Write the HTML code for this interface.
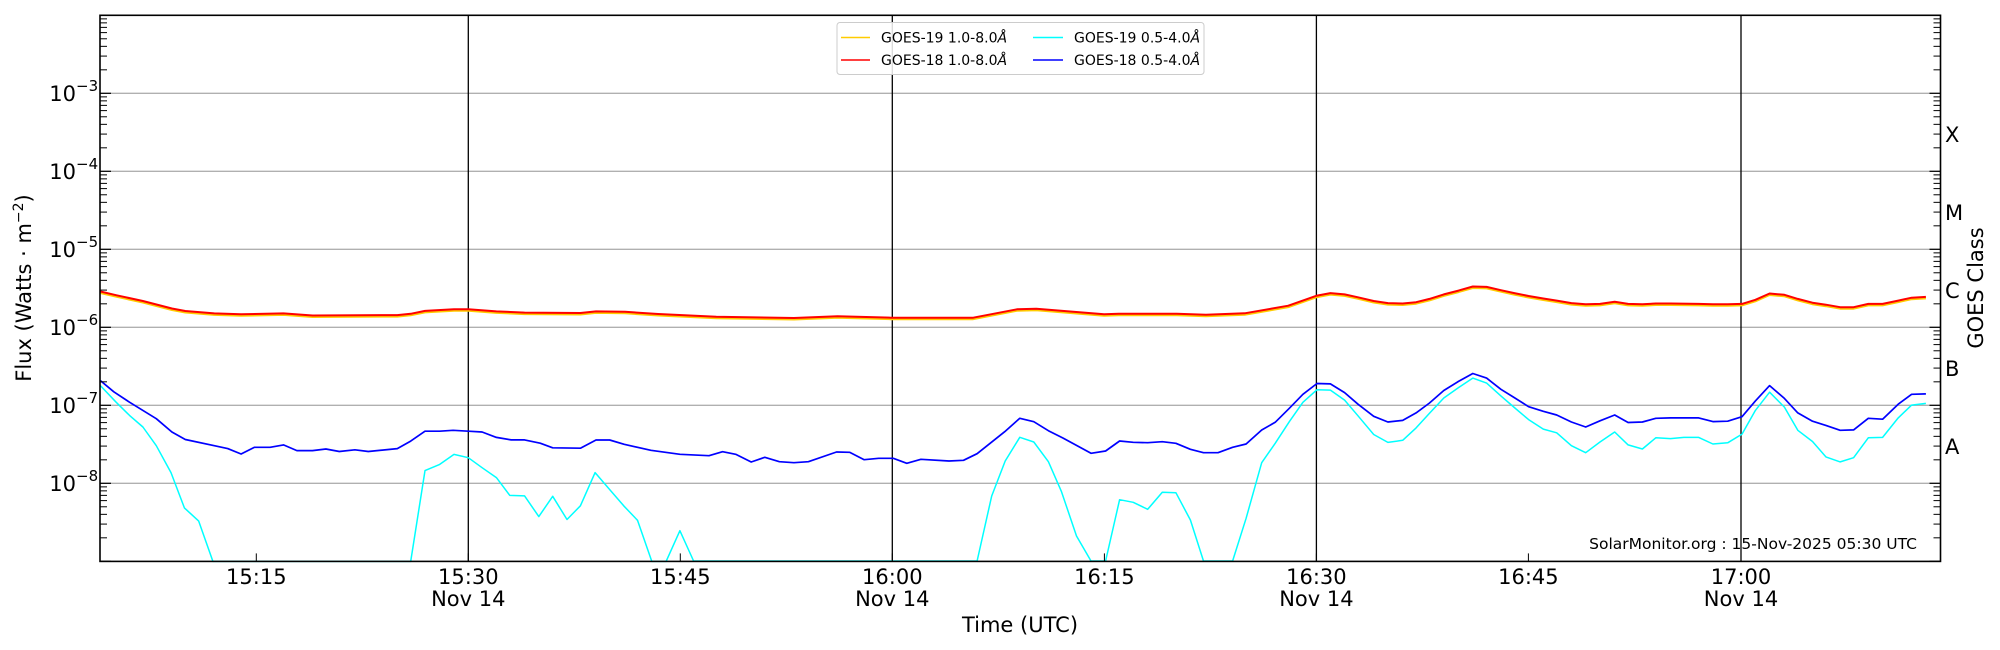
<!DOCTYPE html>
<html><head><meta charset="utf-8"><style>
html,body{margin:0;padding:0;background:#fff;}
svg{display:block;font-family:"DejaVu Sans","Liberation Sans",sans-serif;}
</style></head><body>
<svg id="s" width="2000" height="650" viewBox="0 0 2000 650" xmlns="http://www.w3.org/2000/svg">
<rect width="2000" height="650" fill="#fff"/>
<g id="grid"></g>
<g fill="none" stroke-linejoin="round">
<polyline id="cy" stroke="#00ffff" stroke-width="1.5" points="100.4,385.6 116.1,402.2 129.5,415.4 142.9,427 156.3,445.7 171,472.6 184.4,507.9 198.7,521.1 212.9,561.4 410.7,561.4 425,470.6 439.7,464.4 454,454.4 468.3,457.7 482.1,467.7 496.4,477.6 509.8,495.4 524.6,495.9 538.8,516.6 552.7,496.3 567,519.5 580.4,505.8 595.1,472.6 609.4,489.2 623.7,505.8 637.5,520.3 651.8,561.4 666.1,561.4 679.9,530.7 693.6,561 977.1,561 991.7,496 1005.2,461 1019.8,437.3 1033.8,442 1048.4,461.7 1061.5,491.7 1076.5,536 1091,561 1105.6,561 1119.6,499.7 1133.2,502.3 1147.7,509.3 1162.3,492.3 1175.9,492.7 1190.4,520 1203.5,561 1232.6,561 1246.1,518.3 1261.7,462.7 1275.2,443.3 1289.3,421.7 1302.9,402.3 1317,389.7 1330.4,390.1 1344.6,400.1 1358,415.8 1373.7,434.5 1387.9,442.4 1402.7,440.3 1416.1,427.9 1429.5,413.3 1443.8,398 1458.5,387.6 1472.8,378.1 1486.6,383.1 1500.9,395.9 1514.3,407.5 1528.6,419.6 1543.3,429.1 1556.7,432.8 1571.4,445.7 1585.7,452.7 1600,442 1614.7,432 1628.1,444.9 1642.4,449 1655.8,437.8 1670.5,438.6 1683.9,437.4 1698.7,437.4 1712.9,444 1727.7,442.8 1742,434.1 1755.4,410.4 1769.6,392.2 1784.4,407.1 1797.8,430.3 1812.5,441.5 1825.9,456.9 1840.2,461.9 1853.6,457.7 1868.3,437.8 1882.6,437.4 1898.2,417.9 1911.6,405.1 1925.9,403.4"/>
<polyline stroke="#0000ff" stroke-width="1.7" points="100.4,380.6 113.8,391.8 129.5,402.2 156.3,418.7 171.9,432 185.3,439.5 214.3,445.7 227.7,448.6 241.1,454 254.5,447.3 270.1,447.3 283.5,444.9 296.9,450.6 312.5,450.6 325.9,449 339.3,451.5 354.9,449.8 368.3,451.5 397.3,448.6 410.7,441.1 425,431.2 439.7,431.2 453.1,430.3 468.3,431.2 482.1,432 496.4,437.4 511.2,439.9 524.6,439.9 540.2,443.2 552.7,447.8 580.4,448.2 596,440 609.7,440 624.2,444.3 650.9,450.3 680,454.3 709,455.7 722.6,451.7 735.7,454.3 751.2,462 764.8,457.3 779.4,461.7 793.9,462.7 808.4,461.7 836.5,452 849.6,452.3 864.2,459.7 878.7,458.3 893.3,458.3 906.8,463.3 920.9,459.3 949,461 963.5,460.3 977.1,453.7 1004.7,431.7 1019.8,418.3 1033.8,421.7 1048.4,430.7 1062.9,438 1091,453.3 1105.6,451 1119.6,441 1133.2,442.3 1147.7,442.7 1162.3,441.7 1175.9,443.3 1190.4,449.3 1203.5,452.7 1218,452.7 1232.6,447.3 1246.1,444 1261.7,430 1275.2,422.3 1289.3,408.3 1302.9,394.3 1317,383.5 1330.4,383.9 1344.6,392.6 1358,404.2 1373.7,416.3 1387.9,422 1402.7,420.4 1416.1,412.9 1429.5,403 1443.8,390.5 1458.5,381.4 1472.8,373.5 1486.6,378.1 1500.9,389.3 1514.3,397.6 1528.6,406.7 1543.3,411.3 1556.7,415 1571.4,422 1585.7,427 1600,420.8 1614.7,415 1628.1,422.5 1642.4,422 1655.8,418.3 1670.5,417.9 1683.9,417.9 1698.7,417.9 1712.9,421.6 1727.7,421.2 1742,416.7 1755.4,400.9 1769.6,385.6 1784.4,398.4 1797.8,412.9 1812.5,421.2 1825.9,425.4 1840.2,430.3 1853.6,429.9 1868.3,418.3 1882.6,419.2 1898.2,404.2 1911.6,394.3 1925.9,393.9"/>
<g id="redg">
<polyline id="rd" stroke="#ff0000" stroke-width="2" points="100.4,291.5 116.1,295.2 142.9,301 171.9,308.5 185.3,311 214.3,313.4 241.1,314.3 283.5,313.4 312.5,315.5 397.3,315.1 410.7,313.8 425,310.9 454,309.3 468.3,309.3 496.4,311.4 524.6,312.6 580.4,313 596,311.4 625,311.8 658.2,314 716.3,316.7 793.9,318 837.5,316.3 890.8,317.7 973.2,317.7 1016.9,309.3 1036.3,308.7 1104.1,314.3 1118.7,313.7 1176.8,313.7 1205.9,314.7 1244.7,313.3 1288.3,305.7 1317,295.6 1330.4,293.1 1344.6,294.4 1358,297.3 1373.7,301 1387.9,303.1 1402.7,303.5 1416.1,302.2 1429.5,298.9 1443.8,294.4 1458.5,290.6 1472.8,286.5 1486.6,286.9 1500.9,290.2 1514.3,293.1 1528.6,296 1543.3,298.5 1556.7,300.6 1571.4,303.1 1585.7,304.3 1600,303.9 1614.7,301.8 1628.1,303.9 1642.4,304.3 1655.8,303.5 1670.5,303.5 1698.7,303.9 1712.9,304.3 1727.7,304.3 1742,303.9 1755.4,299.8 1769.6,293.5 1784.4,294.8 1797.8,298.9 1812.5,302.7 1825.9,304.7 1840.2,307.2 1853.6,307.2 1868.3,303.9 1882.6,303.9 1898.2,300.6 1911.6,297.7 1925.9,296.9"/>
</g>
</g>
<g id="axes"></g>
<rect x="837" y="22.5" width="367" height="52" rx="3" fill="#fff" fill-opacity="0.85" stroke="#ccc" stroke-width="1"/>
<line x1="841" y1="37.5" x2="870" y2="37.5" stroke="#ffcc00" stroke-width="1.5"/>
<line x1="841" y1="60" x2="870" y2="60" stroke="#ff0000" stroke-width="1.5"/>
<line x1="1033" y1="37.5" x2="1063" y2="37.5" stroke="#00ffff" stroke-width="1.5"/>
<line x1="1033" y1="60" x2="1063" y2="60" stroke="#0000ff" stroke-width="1.5"/>
<g font-size="14" fill="#000">
<text x="881" y="42.5">GOES-19 1.0-8.0<tspan font-style="italic">Å</tspan></text>
<text x="881" y="65">GOES-18 1.0-8.0<tspan font-style="italic">Å</tspan></text>
<text x="1074" y="42.5">GOES-19 0.5-4.0<tspan font-style="italic">Å</tspan></text>
<text x="1074" y="65">GOES-18 0.5-4.0<tspan font-style="italic">Å</tspan></text>
</g>
<g font-size="21" text-anchor="end" fill="#000">
<text x="76" y="101">10</text><text x="76" y="179">10</text><text x="76" y="257">10</text><text x="76" y="335">10</text><text x="76" y="413">10</text><text x="76" y="491">10</text>
</g>
<g font-size="15" fill="#000">
<text x="76" y="91">−3</text><text x="76" y="169">−4</text><text x="76" y="247">−5</text><text x="76" y="325">−6</text><text x="76" y="403">−7</text><text x="76" y="481">−8</text>
</g>
<g font-size="21" fill="#000">
<text x="1945" y="142">X</text><text x="1945" y="220">M</text><text x="1945" y="298">C</text><text x="1945" y="376">B</text><text x="1945" y="454">A</text>
</g>
<text font-size="21" text-anchor="middle" transform="translate(1983,288) rotate(-90)">GOES Class</text>
<text font-size="21" text-anchor="middle" transform="translate(31,288) rotate(-90)">Flux (Watts · m<tspan font-size="14" dy="-8">−2</tspan><tspan dy="8">)</tspan></text>
<g font-size="21" text-anchor="middle" fill="#000">
<text x="256.3" y="584">15:15</text>
<text x="468.3" y="584">15:30</text><text x="468.3" y="606">Nov 14</text>
<text x="680.3" y="584">15:45</text>
<text x="892.3" y="584">16:00</text><text x="892.3" y="606">Nov 14</text>
<text x="1104.4" y="584">16:15</text>
<text x="1316.4" y="584">16:30</text><text x="1316.4" y="606">Nov 14</text>
<text x="1528.4" y="584">16:45</text>
<text x="1741" y="584">17:00</text><text x="1741" y="606">Nov 14</text>
<text x="1020" y="632">Time (UTC)</text>
</g>
<text x="1917" y="549" font-size="15.5" text-anchor="end">SolarMonitor.org : 15-Nov-2025 05:30 UTC</text>
</svg>
<script>
(function(){
var NS="http://www.w3.org/2000/svg";
function L(g,x1,y1,x2,y2,c,w){var l=document.createElementNS(NS,"line");l.setAttribute("x1",x1);l.setAttribute("y1",y1);l.setAttribute("x2",x2);l.setAttribute("y2",y2);l.setAttribute("stroke",c);l.setAttribute("stroke-width",w);g.appendChild(l);}
var grid=document.getElementById("grid"),ax=document.getElementById("axes");
var L0=100,R=1940.5,T=15.3,B=561.4,D=78;
for(var n=3;n<=8;n++){var y=T+(n-2)*D;L(grid,L0,y,R,y,"#b0b0b0",1.3);}
[468.3,892.3,1316.4,1741].forEach(function(x){L(grid,x,T,x,B,"#000",1.3);});
var rd=document.getElementById("rd");var pts=rd.getAttribute("points").trim().split(/\s+/).map(function(p){var a=p.split(",");return a[0]+","+(parseFloat(a[1])+1.5);}).join(" ");
var yl=document.createElementNS(NS,"polyline");yl.setAttribute("points",pts);yl.setAttribute("stroke","#ffcc00");yl.setAttribute("stroke-width","2");yl.setAttribute("fill","none");
rd.parentNode.insertBefore(yl,rd);
for(var d=2;d<=9;d++){var yb=T+(d-2)*D;
 L(ax,L0,yb,L0+11,yb,"#000",1.2);L(ax,R-11,yb,R,yb,"#000",1.2);
 for(var k=2;k<=9;k++){var y=yb-Math.log10(k)*D; if(y<T)continue; L(ax,L0,y,L0+7,y,"#000",1);L(ax,R-7,y,R,y,"#000",1);}
}
[256.3,468.3,680.3,892.3,1104.4,1316.4,1528.4,1741].forEach(function(x){L(ax,x,B,x,B-8,"#000",1);});
var r=document.createElementNS(NS,"rect");r.setAttribute("x",L0);r.setAttribute("y",T);r.setAttribute("width",R-L0);r.setAttribute("height",B-T);r.setAttribute("fill","none");r.setAttribute("stroke","#000");r.setAttribute("stroke-width","1.6");ax.appendChild(r);
})();
</script>
</body></html>
